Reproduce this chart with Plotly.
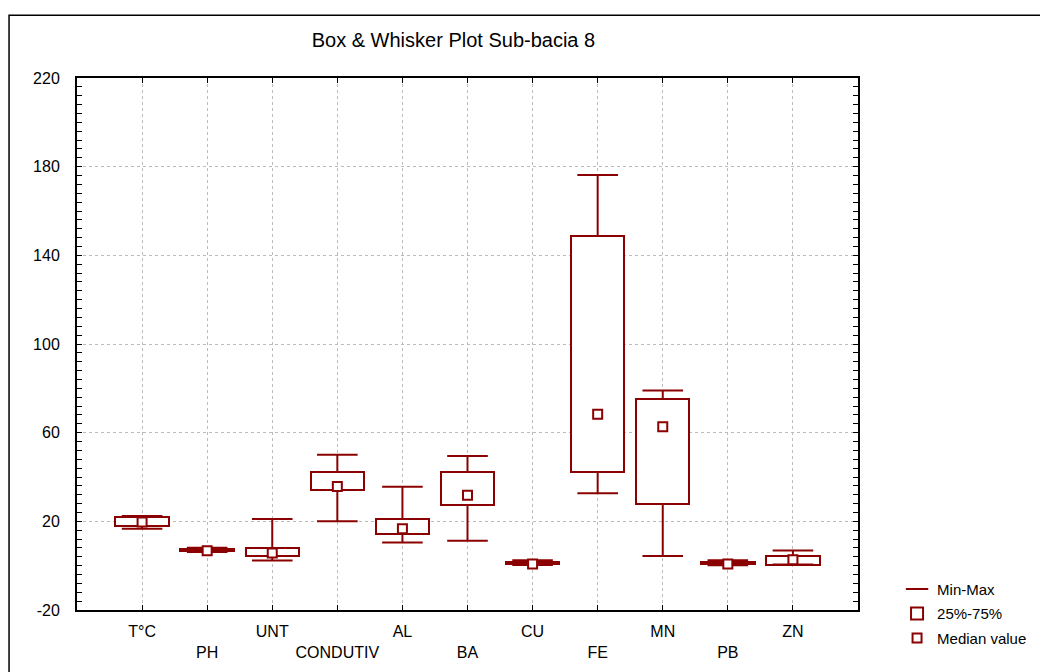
import plotly.graph_objects as go

RED = "#8B0000"
FONT = "Arial, Liberation Sans, sans-serif"

categories = ["T°C", "PH", "UNT", "CONDUTIV", "AL", "BA", "CU", "FE", "MN", "PB", "ZN"]
v_min = [16.6, 6.2, 2.3, 20.0, 10.4, 11.2, 0.3, 32.7, 4.4, 0.2, 0.5]
q1 = [17.9, 6.4, 4.4, 34.0, 14.3, 27.3, 0.6, 42.3, 28.0, 0.6, 0.5]
median = [19.7, 6.7, 5.7, 35.7, 16.7, 31.8, 0.8, 68.3, 62.7, 0.7, 2.7]
q3 = [22.0, 7.6, 8.1, 42.3, 21.1, 42.3, 1.5, 148.7, 75.1, 1.5, 4.4]
v_max = [22.4, 8.1, 21.1, 50.0, 35.6, 49.5, 2.5, 176.2, 79.0, 2.5, 6.8]
y_ticks = [-20, 20, 60, 100, 140, 180, 220]

pos = list(range(1, len(categories) + 1))
# stagger the tick labels on two rows like the original
ticktext = [c if i % 2 == 0 else "<br>" + c for i, c in enumerate(categories)]

wx, wy = [], []
for i, p in enumerate(pos):
    wx += [p, p, None, p, p, None]
    wy += [q3[i], v_max[i], None, q1[i], v_min[i], None]

fig = go.Figure()

fig.add_trace(go.Scatter(
    x=pos + pos, y=v_max + v_min, mode="markers", name="Min-Max", legendgroup="a",
    marker=dict(symbol="line-ew-open", size=29, color=RED, line=dict(color=RED, width=2)),
))
fig.add_trace(go.Bar(
    x=pos, y=[b - a for a, b in zip(q1, q3)], base=q1, width=0.82,
    name="25%-75%", legendgroup="b",
    marker=dict(color="white", line=dict(color=RED, width=2)),
))
fig.add_trace(go.Scatter(
    x=wx, y=wy, mode="lines", showlegend=False,
    line=dict(color=RED, width=2),
))
fig.add_trace(go.Scatter(
    x=pos, y=median, mode="markers", name="Median value", legendgroup="c",
    marker=dict(symbol="square", size=9, color="white", line=dict(color=RED, width=2)),
))

# outer frame
fig.add_shape(type="rect", xref="paper", yref="paper",
              x0=-0.087, x1=1.4, y0=-0.3, y1=1.118,
              line=dict(color="black", width=1.5), fillcolor="rgba(0,0,0,0)")

fig.update_layout(
    width=1048, height=672,
    margin=dict(l=69, r=198, t=70, b=70),
    paper_bgcolor="white", plot_bgcolor="white",
    font=dict(family=FONT, size=16, color="black"),
    title=dict(text="Box & Whisker Plot Sub-bacia 8", x=0.482, xref="paper",
               xanchor="center", y=0.953, yanchor="middle",
               font=dict(size=20, family=FONT)),
    showlegend=True,
    legend=dict(x=1.05, y=0.07, xanchor="left", yanchor="top",
                bgcolor="rgba(0,0,0,0)", font=dict(size=15), tracegroupgap=2),
    bargap=0,
)
fig.update_xaxes(
    range=[0, 12], tickvals=pos, ticktext=ticktext,
    showline=True, linecolor="black", linewidth=2, mirror="ticks",
    ticks="inside", ticklen=5, tickcolor="black", ticklabelstandoff=6,
    showgrid=True, gridcolor="#bbbbbb", griddash="dot", gridwidth=1,
    zeroline=False,
)
fig.update_yaxes(
    range=[-20, 220], tickvals=y_ticks, ticktext=[str(v) for v in y_ticks],
    showline=True, linecolor="black", linewidth=2, mirror="ticks",
    ticks="inside", ticklen=5, tickcolor="black", ticklabelstandoff=12,
    showgrid=True, gridcolor="#bbbbbb", griddash="dot", gridwidth=1,
    zeroline=False,
    minor=dict(dtick=4, tick0=0, ticks="inside", ticklen=5, tickcolor="black", showgrid=False),
)

fig.write_html("out.html")
